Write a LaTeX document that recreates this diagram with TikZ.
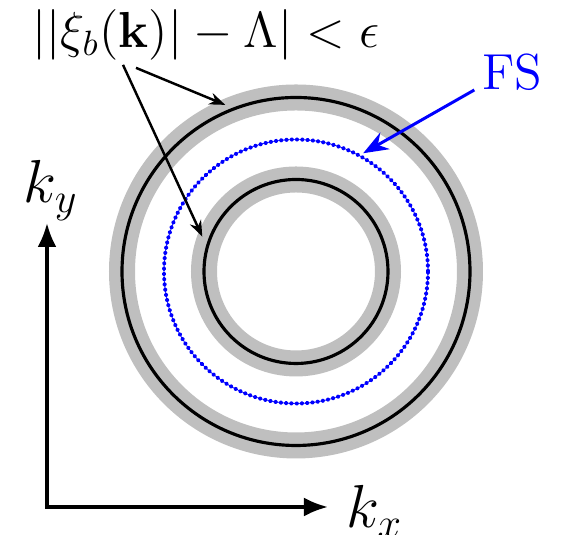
\documentclass[tikz,border=0pt]{standalone}
\usepackage{amsmath,amssymb}
\usetikzlibrary{arrows.meta}
\tikzset{
  band/.style={line width=0.26cm, black!25},
  contour/.style={line width=0.9pt, black},
  fermi/.style={blue, line width=1.1pt, line cap=round, dash pattern=on 0.4pt off 1.1pt},
  pointer/.style={-{Stealth[length=1.6mm,width=1.2mm]}, line width=0.7pt},
  axes/.style={{Latex[length=2.4mm,width=1.9mm]}-{Latex[length=2.4mm,width=1.9mm]}, line width=1pt}
}

\begin{document}
\begin{tikzpicture}
\useasboundingbox (0,0) rectangle (5.62,5.35);
\coordinate (c) at (2.96,2.635);
\begin{scope}[shift={(c)}]
  \draw[band] (0,0) circle (1.74);
  \draw[band] (0,0) circle (0.92);
  \draw[contour] (0,0) circle (1.74);
  \draw[contour] (0,0) circle (0.92);
  \draw[fermi] (0,0) circle (1.32);
  \coordinate (outhit) at (113:1.81);
  \coordinate (inhit) at (159.6:1.0);
  \coordinate (fshit) at (60.4:1.36);
\end{scope}
\coordinate (o) at (0.47,0.28);
\coordinate (ytip) at (0.47,3.12);
\coordinate (xtip) at (3.28,0.28);
\draw[axes] (ytip) -- (o) -- (xtip);
\node[font=\LARGE, anchor=base, inner sep=0pt] (ky) at (0.51,3.32) {$k_y$};
\node[font=\LARGE, anchor=base west, inner sep=0pt] (kx) at (3.46,0.07) {$k_x$};
\node[font=\fontsize{13.7}{16}\selectfont, anchor=base, inner sep=1pt] (lab) at (2.06,4.87)
  {$||\xi_b(\mathbf{k})|-\Lambda|<\epsilon$};
\node[font=\Large, blue, anchor=base, inner sep=2pt] (fs) at (5.12,4.45) {FS};
\draw[pointer] ([xshift=-8.3mm]lab.south) -- (inhit);
\draw[pointer] ([xshift=-7mm,yshift=-0.3mm]lab.south) -- (outhit);
\draw[pointer, blue, line width=0.85pt, -{Stealth[length=2.5mm,width=1.9mm]}] (fs.base west) -- (fshit);
\end{tikzpicture}
\end{document}
